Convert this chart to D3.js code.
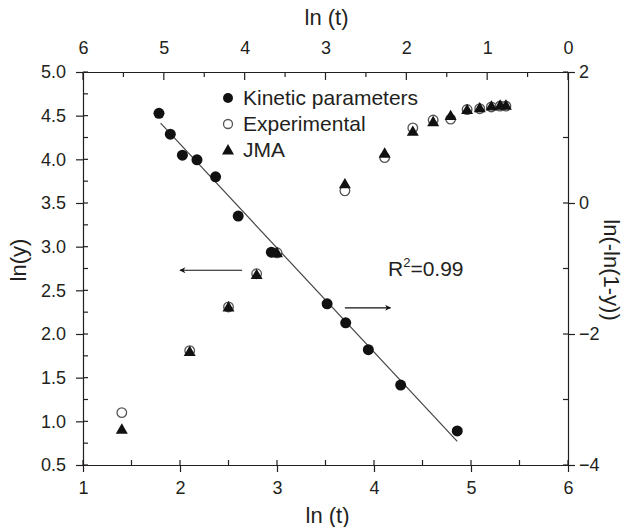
<!DOCTYPE html>
<html lang="en">
<head>
    <meta charset="UTF-8">
    <title>ln(y) vs ln(t)</title>
    <script src="https://d3js.org/d3.v7.min.js"></script>
    <style>
        body { margin: 0; background: #fff; font-family: "Liberation Sans", Arial, sans-serif; }
        text { fill: #231f20; }
    </style>
</head>
<body>
    <svg width="628" height="527"></svg>
    <script>
        // Experimental and JMA: bottom ln(t) axis, left ln(y) axis
        const expLnT = [1.40, 2.10, 2.50, 2.79, 3.00, 3.70, 4.11, 4.40, 4.61, 4.79, 4.96, 5.09, 5.21, 5.30, 5.36];
        const expLnY = [1.10, 1.81, 2.31, 2.69, 2.93, 3.64, 4.02, 4.36, 4.45, 4.46, 4.57, 4.58, 4.60, 4.61, 4.61];
        const jmaLnY = [0.91, 1.80, 2.31, 2.68, 2.93, 3.72, 4.07, 4.32, 4.43, 4.50, 4.57, 4.59, 4.61, 4.62, 4.62];

        // Kinetic parameters: top ln(t) axis (reversed), right ln(-ln(1-y)) axis
        const kinLnT = [5.06, 4.92, 4.77, 4.59, 4.36, 4.08, 3.67, 2.98, 2.75, 2.47, 2.07, 1.37];
        const kinY = [1.37, 1.05, 0.73, 0.66, 0.40, -0.20, -0.75, -1.54, -1.83, -2.24, -2.78, -3.48];

        // linear fit, R^2 = 0.99
        const fitLnT = [5.04, 1.37];
        const fitY = [1.22, -3.64];

        const bottomTicks = [1, 2, 3, 4, 5, 6];
        const topTicks = [6, 5, 4, 3, 2, 1, 0];
        const leftTicks = [0.5, 1.0, 1.5, 2.0, 2.5, 3.0, 3.5, 4.0, 4.5, 5.0];
        const rightTicks = [2, 0, -2, -4];
        const legendNames = ["Kinetic parameters", "Experimental", "JMA"];

        const svg = d3.select("svg");
        const pL = 83, pR = 568, pT = 72, pB = 465;

        const x = d3.scaleLinear().domain([1, 6]).range([pL, pR]);
        const xTop = d3.scaleLinear().domain([6, 0]).range([pL, pR]);
        const y = d3.scaleLinear().domain([0.5, 5]).range([pB, pT]);
        const yRight = d3.scaleLinear().domain([-4, 2]).range([pB, pT]);

        const ink = "#231f20";

        function drawAxis(axis, pos) {
            const g = svg.append("g").attr("transform", pos).call(axis);
            g.select(".domain").attr("stroke", ink).attr("stroke-width", 1.2);
            g.selectAll(".tick line").attr("stroke", ink).attr("stroke-width", 1.2);
            g.selectAll(".tick text").attr("fill", ink).style("font-size", "18px")
                .style("font-family", "Liberation Sans, Arial, sans-serif");
            return g;
        }

        const fmt1 = d3.format(".1f");
        drawAxis(d3.axisBottom(x).tickValues(bottomTicks).tickFormat(d3.format("d"))
            .tickSizeInner(7).tickSizeOuter(0).tickPadding(9), `translate(0,${pB})`);
        drawAxis(d3.axisTop(xTop).tickValues(topTicks).tickFormat(d3.format("d"))
            .tickSizeInner(0).tickSizeOuter(0).tickPadding(18), `translate(0,${pT})`);
        drawAxis(d3.axisLeft(y).tickValues(leftTicks).tickFormat(fmt1)
            .tickSizeInner(7).tickSizeOuter(0).tickPadding(10), `translate(${pL},0)`);
        drawAxis(d3.axisRight(yRight).tickValues(rightTicks).tickFormat(d3.format("d"))
            .tickSizeInner(7).tickSizeOuter(0).tickPadding(4), `translate(${pR},0)`);

        // inner ticks (major and minor)
        const tickG = svg.append("g").attr("stroke", ink).attr("stroke-width", 1.2);
        d3.range(1, 6.01, 0.5).forEach(v => {
            tickG.append("line").attr("x1", x(v)).attr("x2", x(v)).attr("y1", pB).attr("y2", pB - 5);
        });
        d3.range(0, 6.01, 0.5).forEach(v => {
            tickG.append("line").attr("x1", xTop(v)).attr("x2", xTop(v)).attr("y1", pT).attr("y2", pT + (v % 1 === 0 ? 8 : 5));
        });
        d3.range(0.5, 5.01, 0.25).forEach(v => {
            tickG.append("line").attr("x1", pL).attr("x2", pL + 5).attr("y1", y(v)).attr("y2", y(v));
        });
        d3.range(-4, 2.01, 1).forEach(v => {
            tickG.append("line").attr("x1", pR).attr("x2", pR - 5).attr("y1", yRight(v)).attr("y2", yRight(v));
        });

        // axis titles
        svg.append("text").attr("x", (pL + pR) / 2 + 2).attr("y", 523).attr("text-anchor", "middle")
            .style("font-size", "22px").text("ln (t)");
        svg.append("text").attr("x", (pL + pR) / 2 + 1).attr("y", 25).attr("text-anchor", "middle")
            .style("font-size", "22px").text("ln (t)");
        svg.append("text").attr("transform", `translate(26,260) rotate(-90)`)
            .attr("text-anchor", "middle").style("font-size", "22px").text("ln(y)");
        svg.append("text").attr("transform", `translate(604,270) rotate(90)`)
            .attr("text-anchor", "middle").style("font-size", "22px").text("ln(-ln(1-y))");

        // fit line
        const fitLine = d3.line().x(d => xTop(d[0])).y(d => yRight(d[1]));
        svg.append("path").datum(d3.zip(fitLnT, fitY)).attr("d", fitLine)
            .attr("fill", "none").attr("stroke", "#444").attr("stroke-width", 1.2);

        const tri = d3.symbol().type(d3.symbolTriangle).size(62);

        // experimental open circles
        svg.append("g").selectAll("circle").data(d3.zip(expLnT, expLnY)).join("circle")
            .attr("cx", d => x(d[0])).attr("cy", d => y(d[1])).attr("r", 4.8)
            .attr("fill", "#fff").attr("stroke", "#555").attr("stroke-width", 1.3);

        // JMA triangles
        svg.append("g").selectAll("path").data(d3.zip(expLnT, jmaLnY)).join("path")
            .attr("d", tri).attr("transform", d => `translate(${x(d[0])},${y(d[1]) + 1})`)
            .attr("fill", "#111");

        // kinetic parameters
        svg.append("g").selectAll("circle").data(d3.zip(kinLnT, kinY)).join("circle")
            .attr("cx", d => xTop(d[0])).attr("cy", d => yRight(d[1])).attr("r", 5.5)
            .attr("fill", "#111");

        // arrows
        svg.append("defs").append("marker").attr("id", "head")
            .attr("viewBox", "0 0 10 10").attr("refX", 9).attr("refY", 5)
            .attr("markerWidth", 10).attr("markerHeight", 6).attr("markerUnits", "userSpaceOnUse")
            .attr("orient", "auto")
            .append("path").attr("d", "M0,0 L10,5 L0,10 L3,5 Z").attr("fill", "#111");
        svg.append("line").attr("x1", x(2.64)).attr("x2", x(2.0)).attr("y1", y(2.73)).attr("y2", y(2.73))
            .attr("stroke", "#111").attr("stroke-width", 1.2).attr("marker-end", "url(#head)");
        svg.append("line").attr("x1", x(3.70)).attr("x2", x(4.17)).attr("y1", y(2.30)).attr("y2", y(2.30))
            .attr("stroke", "#111").attr("stroke-width", 1.2).attr("marker-end", "url(#head)");

        // R^2 label
        const r2 = svg.append("text").attr("x", 388).attr("y", 276).style("font-size", "21px");
        r2.append("tspan").text("R");
        r2.append("tspan").attr("dy", -9).style("font-size", "13px").text("2");
        r2.append("tspan").attr("dy", 9).text("=0.99");

        // legend
        const lg = svg.append("g").attr("transform", "translate(228,98)");
        legendNames.forEach((name, i) => {
            const row = lg.append("g").attr("transform", `translate(0,${i * 26})`);
            if (i === 0) row.append("circle").attr("r", 5).attr("fill", "#111");
            if (i === 1) row.append("circle").attr("r", 4.5).attr("fill", "#fff").attr("stroke", "#555").attr("stroke-width", 1.3);
            if (i === 2) row.append("path").attr("d", tri).attr("transform", "translate(0,1)").attr("fill", "#111");
            row.append("text").attr("x", 15).attr("y", 7).style("font-size", "21px").text(name);
        });
    </script>
</body>
</html>
